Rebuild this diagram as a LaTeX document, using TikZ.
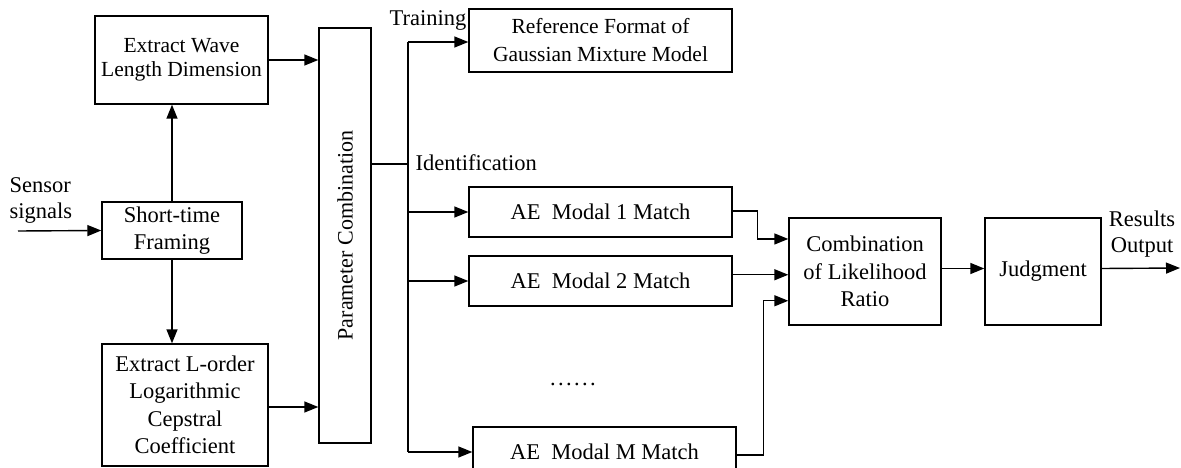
\documentclass[tikz,border=0pt]{standalone}
\usepackage{fontspec}
\setmainfont{Liberation Serif}
\usetikzlibrary{positioning, calc, arrows.meta}

\begin{document}
\begin{tikzpicture}[x=1pt, y=-1pt, line width=1.4pt,
    block/.style={rectangle, draw, align=center, inner sep=0pt, font=\fontsize{22.5}{27.5}\selectfont},
    tag/.style={align=left, inner sep=0pt, font=\fontsize{22.5}{26}\selectfont},
    >={Triangle[length=14pt, width=11pt]}]
			\useasboundingbox (0,0) rectangle (1181,468);
			% Define the nodes
			\node (wave) [block, minimum width=173pt, minimum height=88pt, font=\fontsize{21.5}{24}\selectfont] at (181.5,60) {Extract Wave\\Length Dimension};
			\node (frame) [block, minimum width=140pt, minimum height=57pt] at (172,230.5) {Short-time\\Framing};
			\node (cep) [block, minimum width=166pt, minimum height=122pt] at (185,405) {Extract L-order\\Logarithmic\\Cepstral\\Coefficient};
			\node (param) [block, minimum width=52pt, minimum height=415pt, font=\fontsize{22}{26}\selectfont] at (345,235.5) {\rotatebox{90}{Parameter Combination}};
			\node (refgmm) [block, minimum width=263pt, minimum height=63pt, font=\fontsize{21.5}{28}\selectfont] at (600.5,40.5) {Reference Format of\\Gaussian Mixture Model};
			\node (ae1) [block, minimum width=263pt, minimum height=50pt] at (600.5,212) {AE\ \ Modal 1 Match};
			\node (ae2) [block, minimum width=263pt, minimum height=50pt] at (600.5,281) {AE\ \ Modal 2 Match};
			\node (aem) [block, minimum width=263pt, minimum height=50pt] at (604.5,452) {AE\ \ Modal M Match};
			\node (comb) [block, minimum width=152pt, minimum height=107pt] at (865,271.5) {Combination\\of Likelihood\\Ratio};
			\node (judge) [block, minimum width=116pt, minimum height=107pt] at (1043,271.5) {Judgment};
			\node (sensor) [tag, anchor=west] at (9,200) {Sensor\\signals};
			\node (train) [tag] at (428,20) {Training};
			\node (ident) [tag, anchor=west] at (415,163) {Identification};
			\node (dots) [tag] at (573,384) {.\kern2.4pt.\kern2.4pt.\kern2.4pt.\kern2.4pt.\kern2.4pt.};
			\node (result) [tag, align=center] at (1142,234) {Results\\Output};
			\coordinate (in) at (18,231);
			\coordinate (bus) at (408,164);
			\coordinate (bustop) at (408,42);
			\coordinate (busbot) at (408,452);
			\coordinate (out) at (1180,268);
			\coordinate (c1) at ($(comb.north west)!0.2!(comb.south west)$);
			\coordinate (c2) at ($(comb.north west)!0.53!(comb.south west)$);
			\coordinate (c3) at ($(comb.north west)!0.77!(comb.south west)$);
			% Connect the nodes
			\draw [->] (in) -- (frame.west);
			\draw [->] (frame.north) -- (frame.north |- wave.south);
			\draw [->] (frame.south) -- (frame.south |- cep.north);
			\draw [->] (wave.east) -- (wave.east -| param.west);
			\draw [->] ($(cep.east)+(0,2)$) -- ($(cep.east -| param.west)+(0,2)$);
			\draw (param.east |- bus) -- (bus);
			\draw (bustop) -- (busbot);
			\draw [->] (bustop) -- (bustop -| refgmm.west);
			\draw [->] (ae1.west -| bus) -- (ae1.west);
			\draw [->] (ae2.west -| bus) -- (ae2.west);
			\draw [->] (busbot) -- (busbot -| aem.west);
			\draw [->] ($(ae1.east)+(0,-1)$) -| ($(c1)+(-31,0)$) -- (c1);
			\draw [->] (ae2.east |- c2) -- (c2);
			\draw [->] ($(aem.east)+(0,3)$) -| ($(c3)+(-25,0)$) -- (c3);
			\draw [->] ($(comb.east)+(0,-3)$) -- ($(judge.west)+(0,-3)$);
			\draw [->] ($(judge.east)+(0,-3)$) -- (out);
		\end{tikzpicture}
\end{document}
